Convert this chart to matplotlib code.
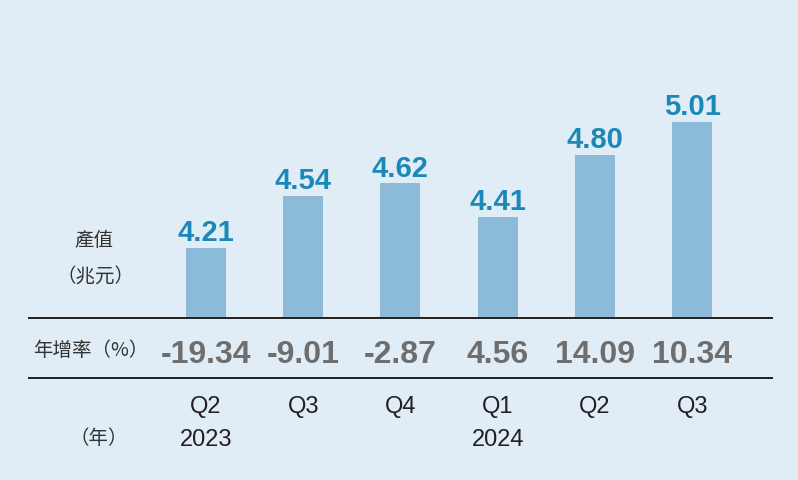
import matplotlib.pyplot as plt
import matplotlib.transforms as mtransforms
import numpy as np

quarters = ['Q2', 'Q3', 'Q4', 'Q1', 'Q2', 'Q3']
years = ['2023', '', '', '2024', '', '']
output = [4.21, 4.54, 4.62, 4.41, 4.80, 5.01]
growth = ['-19.34', '-9.01', '-2.87', '4.56', '14.09', '10.34']

bg = '#e0edf6'
bar_color = '#8bbbd8'
value_color = '#1b88b8'
growth_color = '#6e6e6e'
text_color = '#231f20'
W, H = 798, 480

plt.rcParams['font.family'] = ['Liberation Sans', 'Noto Sans CJK TC', 'DejaVu Sans']

fig = plt.figure(figsize=(W / 100, H / 100), dpi=100, facecolor=bg)


def fx(px):
    return px / W


def fy(py):
    return 1 - py / H


# axes spans the horizontal rules, bottom on the upper rule
ax = fig.add_axes([fx(29), fy(318), fx(772 - 29), 318 / H])
ax.set_facecolor(bg)
x = np.arange(len(output))
step = 97.26
ax.set_xlim((29 - 205.9) / step, (772 - 205.9) / step)
ax.set_ylim(3.766, 3.766 + 318 / 157.5)

ax.bar(x, output, width=40 / step, color=bar_color, zorder=2)
for xi, v in zip(x, output):
    ax.annotate(f'{v:.2f}', (xi, v), xytext=(0, 5), textcoords='offset points',
                ha='center', va='baseline', fontsize=21, fontweight='bold',
                color=value_color)

for s in ['top', 'left', 'right']:
    ax.spines[s].set_visible(False)
ax.spines['bottom'].set_color(text_color)
ax.spines['bottom'].set_linewidth(1.4)
ax.set_xticks([])
ax.set_yticks([])

mixed = mtransforms.blended_transform_factory(ax.transData, fig.transFigure)
axfig = mtransforms.blended_transform_factory(ax.transAxes, fig.transFigure)
ax.plot([0, 1], [fy(378), fy(378)], transform=axfig, color=text_color,
        lw=1.4, clip_on=False)

for xi, g, q, yr in zip(x, growth, quarters, years):
    ax.text(xi, fy(363), g, transform=mixed, ha='center', va='baseline',
            fontsize=23, fontweight='bold', color=growth_color)
    ax.text(xi, fy(413), q, transform=mixed, ha='center', va='baseline',
            fontsize=17, color=text_color)
    if yr:
        ax.text(xi, fy(446), yr, transform=mixed, ha='center', va='baseline',
                fontsize=17, color=text_color)

cjk = ['Noto Sans CJK TC', 'DejaVu Sans']
fig.text(fx(94), fy(240), '產值', ha='center', va='center', fontsize=14,
         color='#333333', family=cjk)
fig.text(fx(95), fy(277), '（兆元）', ha='center', va='center', fontsize=14,
         color='#333333', family=cjk)
fig.text(fx(33), fy(350), '年增率（%）', ha='left', va='center', fontsize=14,
         color='#333333', family=cjk)
fig.text(fx(99), fy(438), '（年）', ha='center', va='center', fontsize=14,
         color='#333333', family=cjk)

fig.savefig('out.png', dpi=100, facecolor=bg)
